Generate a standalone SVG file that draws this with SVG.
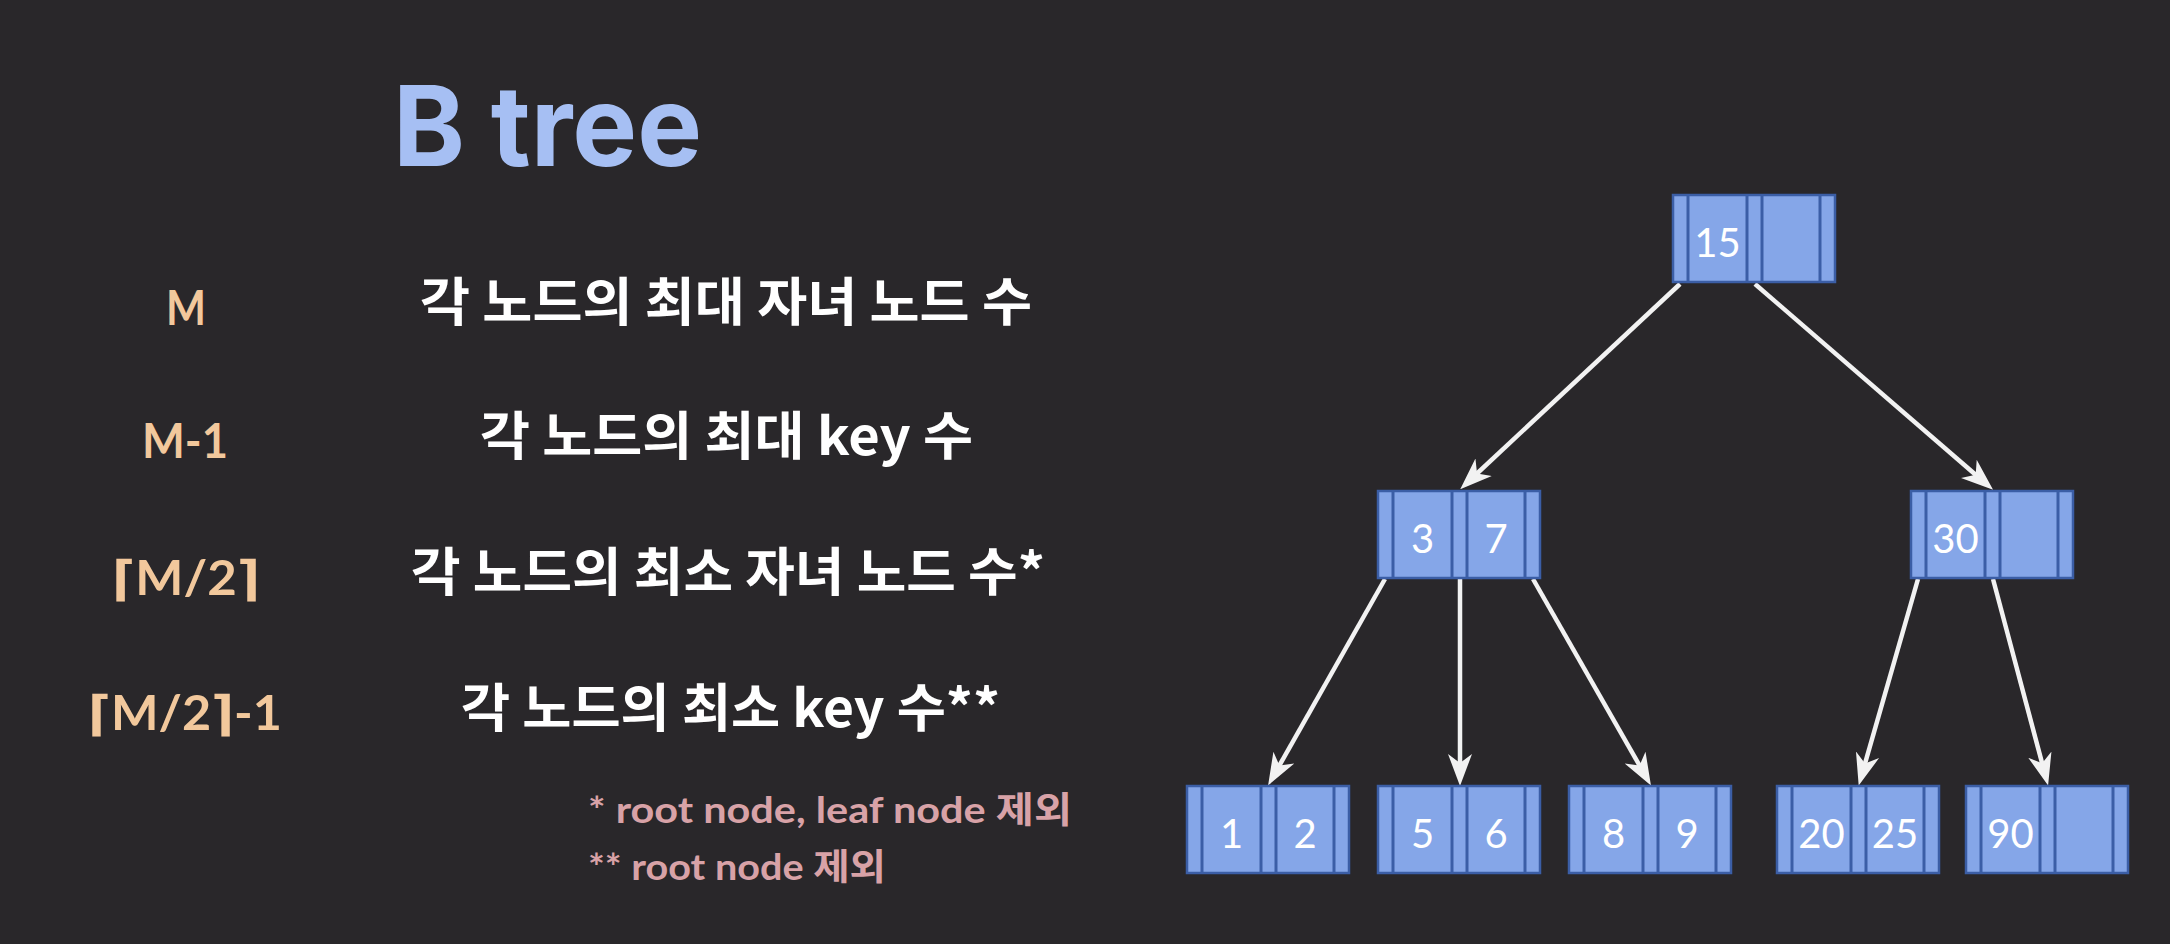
<svg xmlns="http://www.w3.org/2000/svg" xmlns:xlink="http://www.w3.org/1999/xlink" width="2170" height="944" viewBox="0 0 2170 944">
  <style>
    .title { font-family: Inter, "Noto Sans", "Liberation Sans", sans-serif; font-weight: 700; font-size: 112px; fill: #a6bff3; }
    .sym { font-family: Lato, "DejaVu Sans", sans-serif; font-weight: 700; font-size: 48px; fill: #f2c89c; }
    .desc { font-family: "Noto Sans CJK KR", sans-serif; font-weight: 700; font-size: 52px; fill: #ffffff; }
    .note { font-family: Lato, "Noto Sans CJK KR", sans-serif; font-weight: 700; font-size: 36px; fill: #d8a2a7; }
    .key { font-family: Lato, "Liberation Sans", sans-serif; font-size: 40px; fill: #ffffff; text-anchor: middle; }
    .box { fill: #85a6e8; stroke: #3b5ea6; stroke-width: 2.5; }
    .div { stroke: #3b5ea6; stroke-width: 3; }
    .edge { stroke: #f2f2f2; stroke-width: 4.5; fill: none; marker-end: url(#head); }
  </style>
  <defs>
    <!-- one B-tree node: pointer | key | pointer | key | pointer -->
    <g id="nodebox">
      <rect class="box" x="0" y="0" width="162" height="87"/>
      <line class="div" x1="15" y1="0" x2="15" y2="87"/>
      <line class="div" x1="74" y1="0" x2="74" y2="87"/>
      <line class="div" x1="89" y1="0" x2="89" y2="87"/>
      <line class="div" x1="147" y1="0" x2="147" y2="87"/>
    </g>
    <marker id="head" markerUnits="userSpaceOnUse" markerWidth="32" markerHeight="26" viewBox="0 0 32 26" refX="20" refY="13" orient="auto">
      <path d="M0,1 L32,13 L0,25 L9,13 z" fill="#f2f2f2"/>
    </marker>
  </defs>

  <rect width="2170" height="944" fill="#29272a"/>

  <text class="title" x="393" y="166" textLength="309" lengthAdjust="spacingAndGlyphs">B tree</text>

  <!-- definitions table -->
  <g id="definitions">
    <text class="sym" x="166" y="325" textLength="40" lengthAdjust="spacingAndGlyphs">M</text>
    <text class="desc" x="420" y="321" textLength="612" lengthAdjust="spacingAndGlyphs">각 노드의 최대 자녀 노드 수</text>

    <text class="sym" x="142" y="458" textLength="86" lengthAdjust="spacingAndGlyphs">M-1</text>
    <text class="desc" x="480" y="455" textLength="493" lengthAdjust="spacingAndGlyphs">각 노드의 최대 key 수</text>

    <text class="sym" x="112" y="595" textLength="148" lengthAdjust="spacingAndGlyphs">⌈M/2⌉</text>
    <text class="desc" x="411" y="591" textLength="634" lengthAdjust="spacingAndGlyphs">각 노드의 최소 자녀 노드 수*</text>

    <text class="sym" x="88" y="730" textLength="194" lengthAdjust="spacingAndGlyphs">⌈M/2⌉-1</text>
    <text class="desc" x="461" y="727" textLength="539" lengthAdjust="spacingAndGlyphs">각 노드의 최소 key 수**</text>

    <text class="note" x="588" y="823" textLength="484" lengthAdjust="spacingAndGlyphs">* root node, leaf node 제외</text>
    <text class="note" x="588" y="880" textLength="298" lengthAdjust="spacingAndGlyphs">** root node 제외</text>
  </g>

  <!-- tree edges -->
  <g id="connectors">
    <line class="edge" x1="1680" y1="284" x2="1469" y2="481"/>
    <line class="edge" x1="1755" y1="284" x2="1984" y2="482"/>
    <line class="edge" x1="1385" y1="579" x2="1274" y2="775"/>
    <line class="edge" x1="1460" y1="579" x2="1460" y2="774"/>
    <line class="edge" x1="1533" y1="579" x2="1645" y2="775"/>
    <line class="edge" x1="1918" y1="579" x2="1862" y2="774"/>
    <line class="edge" x1="1993" y1="579" x2="2045" y2="774"/>
  </g>

  <!-- root -->
  <g id="node-15" transform="translate(1673,195)">
    <use xlink:href="#nodebox"/>
    <text class="key" x="44.5" y="62">15</text>
  </g>

  <!-- internal level -->
  <g id="node-3-7" transform="translate(1378,491)">
    <use xlink:href="#nodebox"/>
    <text class="key" x="44.5" y="62">3</text>
    <text class="key" x="118" y="62">7</text>
  </g>
  <g id="node-30" transform="translate(1911,491)">
    <use xlink:href="#nodebox"/>
    <text class="key" x="44.5" y="62">30</text>
  </g>

  <!-- leaves -->
  <g id="node-1-2" transform="translate(1187,786)">
    <use xlink:href="#nodebox"/>
    <text class="key" x="44.5" y="62">1</text>
    <text class="key" x="118" y="62">2</text>
  </g>
  <g id="node-5-6" transform="translate(1378,786)">
    <use xlink:href="#nodebox"/>
    <text class="key" x="44.5" y="62">5</text>
    <text class="key" x="118" y="62">6</text>
  </g>
  <g id="node-8-9" transform="translate(1569,786)">
    <use xlink:href="#nodebox"/>
    <text class="key" x="44.5" y="62">8</text>
    <text class="key" x="118" y="62">9</text>
  </g>
  <g id="node-20-25" transform="translate(1777,786)">
    <use xlink:href="#nodebox"/>
    <text class="key" x="44.5" y="62">20</text>
    <text class="key" x="118" y="62">25</text>
  </g>
  <g id="node-90" transform="translate(1966,786)">
    <use xlink:href="#nodebox"/>
    <text class="key" x="44.5" y="62">90</text>
  </g>
</svg>
